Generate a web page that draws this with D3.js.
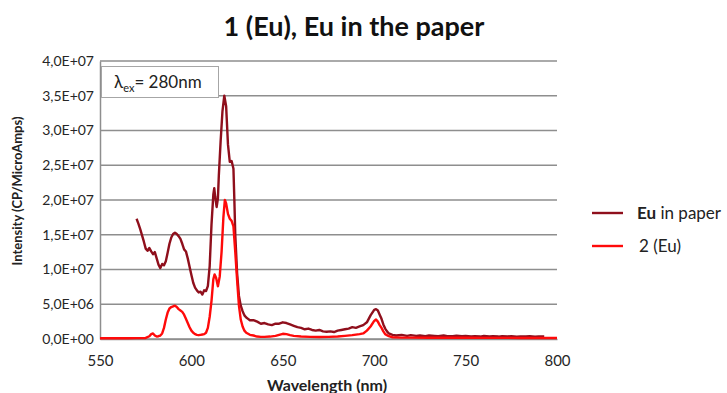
<!DOCTYPE html>
<html>
<head>
<meta charset="utf-8">
<script src="https://cdn.jsdelivr.net/npm/d3@7"></script>
<style>
  html, body { margin: 0; padding: 0; background: #fff; }
  svg { display: block; font-family: Lato, "Open Sans", sans-serif; }
</style>
</head>
<body>
<svg id="chart" width="727" height="393"></svg>
<script>
// Emission spectra, intensity in units of 1E+06 CP/MicroAmps
const paperWavelength = [570,571,572,573,574,575,576,577,578,579,580,581,582,583,584,585,586,587,588,589,590,591,592,593,594,595,596,597,598,599,600,601,602,603,604,605,606,607,608,609,610,611,612,612.5,613,613.8,614.5,615,616,617,618,619,620,621,622,623,623.5,624,625,626,627,628,629,630,631,632,634,636,638,640,642,644,646,648,650,652,654,656,658,660,662,664,666,668,670,672,674,676,678,680,682,684,686,688,690,692,694,696,697,698,699,700,701,702,703,704,705,706,707,708,710,712,715,718,720,723,725,728,730,733,735,738,740,743,745,748,750,753,755,758,760,763,765,768,770,773,775,778,780,783,785,788,790,793,795,798,800];
const paperIntensity = [17.3,16.6,15.8,14.9,14.0,13.0,12.7,13.1,12.6,12.2,12.5,11.6,10.7,10.2,10.8,10.6,11.2,12.4,13.7,14.6,15.1,15.3,15.1,14.8,14.4,13.7,12.9,12.6,11.6,10.4,9.2,8.1,7.4,7.0,6.7,6.8,6.4,7.0,6.9,7.6,10.5,16.5,20.8,21.7,20.5,19.0,20.2,23.5,28.5,32.8,35.0,33.5,28.0,25.5,25.6,24.5,20.0,15.0,9.5,6.2,4.8,4.0,3.4,3.1,2.9,2.7,2.7,2.5,2.2,2.3,2.1,2.0,2.2,2.2,2.4,2.3,2.1,1.9,1.7,1.6,1.4,1.5,1.3,1.2,1.3,1.1,1.05,1.1,1.0,1.2,1.3,1.4,1.5,1.7,1.6,1.8,2.0,2.4,2.9,3.4,3.8,4.2,4.3,4.1,3.5,2.9,2.1,1.5,1.1,0.8,0.6,0.5,0.6,0.45,0.55,0.45,0.5,0.4,0.5,0.45,0.4,0.5,0.42,0.4,0.48,0.4,0.45,0.38,0.42,0.35,0.45,0.38,0.4,0.35,0.42,0.36,0.4,0.33,0.38,0.36,0.4,0.34,0.38,0.36];

const compWavelength = [550,555,560,565,570,575,577,578,579,580,581,582,583,584,585,586,587,588,589,590,591,592,593,594,595,596,597,598,599,600,601,602,603,604,605,606,607,608,609,610,611,612,612.7,613.5,614.5,615.5,616.5,617.5,618.3,619,620,621,622,623,624,625,626,627,628,629,630,632,634,636,638,640,643,646,648,650,652,654,656,660,665,670,675,680,684,688,692,694,696,698,700,701,702,703,704,705,706,708,710,715,720,730,740,750,760,770,780,790,800];
const compIntensity = [0.1,0.1,0.1,0.1,0.12,0.15,0.4,0.7,0.8,0.5,0.35,0.4,0.5,0.8,1.6,2.8,3.8,4.4,4.6,4.7,4.8,4.6,4.3,4.1,3.9,3.5,2.9,2.3,1.7,1.2,0.9,0.7,0.6,0.55,0.6,0.65,0.7,0.9,1.6,3.2,5.5,8.6,9.3,8.8,7.6,9.0,12.5,17.5,20.0,19.5,18.0,17.3,17.0,16.2,12.5,8.5,4.8,2.8,1.8,1.2,0.9,0.6,0.5,0.35,0.3,0.3,0.35,0.45,0.6,0.75,0.7,0.55,0.45,0.35,0.3,0.28,0.3,0.35,0.45,0.55,0.7,0.8,1.2,1.8,2.6,2.8,2.5,2.0,1.6,1.1,0.7,0.4,0.25,0.2,0.2,0.18,0.17,0.17,0.16,0.16,0.15,0.15,0.15];

const xTicks = [550,600,650,700,750,800];
const yTicks = [0,5,10,15,20,25,30,35,40];
const yTickLabels = ["0,0E+00","5,0E+06","1,0E+07","1,5E+07","2,0E+07","2,5E+07","3,0E+07","3,5E+07","4,0E+07"];

const seriesNames = ["in paper", "2 (Eu)"];
const seriesColors = ["#8f0f1c", "#ff0a0a"];

const svg = d3.select("#chart");
const plot = { left: 100, right: 557, top: 61, bottom: 339 };

const x = d3.scaleLinear().domain([550, 800]).range([plot.left, plot.right]);
const y = d3.scaleLinear().domain([0, 40]).range([plot.bottom, plot.top]);

// Title
svg.append("text")
  .attr("x", 354).attr("y", 36)
  .attr("text-anchor", "middle")
  .attr("font-size", 27).attr("font-weight", "bold").attr("fill", "#111")
  .text("1 (Eu), Eu in the paper");

// Horizontal gridlines
svg.append("g")
  .selectAll("line")
  .data(yTicks)
  .join("line")
  .attr("x1", plot.left).attr("x2", plot.right)
  .attr("y1", d => y(d)).attr("y2", d => y(d))
  .attr("stroke", "#8e8e8e").attr("stroke-width", 1.5);

// Y axis
const yAxis = d3.axisLeft(y).tickValues(yTicks).tickSize(0).tickPadding(6)
  .tickFormat((d, i) => yTickLabels[i]);
const gy = svg.append("g").attr("transform", `translate(${plot.left},0)`).call(yAxis);
gy.select(".domain").attr("stroke", "#8e8e8e").attr("stroke-width", 1.5);
gy.selectAll("text").attr("font-size", 14).attr("fill", "#262626").attr("font-family", "Lato, sans-serif");

// X axis
const xAxis = d3.axisBottom(x).tickValues(xTicks).tickSize(0).tickPadding(16);
const gx = svg.append("g").attr("transform", `translate(0,${plot.bottom})`).call(xAxis);
gx.select(".domain").attr("stroke", "#8e8e8e").attr("stroke-width", 1.5);
gx.selectAll("text").attr("font-size", 15).attr("fill", "#262626").attr("font-family", "Lato, sans-serif");

// Axis titles
svg.append("text")
  .attr("x", 327).attr("y", 391)
  .attr("text-anchor", "middle")
  .attr("font-size", 16).attr("font-weight", "bold").attr("fill", "#222")
  .text("Wavelength (nm)");
svg.append("text")
  .attr("transform", "translate(22,191) rotate(-90)")
  .attr("text-anchor", "middle")
  .attr("font-size", 13).attr("font-weight", "bold").attr("fill", "#222")
  .text("Intensity (CP/MicroAmps)");

// Spectra
const line = d3.line()
  .x(d => x(d[0]))
  .y(d => y(d[1]))
  .curve(d3.curveLinear);

const paperData = paperWavelength.map((w, i) => [w, paperIntensity[i]]);
const compData = compWavelength.map((w, i) => [w, compIntensity[i]]);

svg.append("path").datum(paperData)
  .attr("d", line).attr("fill", "none")
  .attr("stroke", seriesColors[0]).attr("stroke-width", 2.4).attr("stroke-linejoin", "round");
svg.append("path").datum(compData)
  .attr("d", line).attr("fill", "none")
  .attr("stroke", seriesColors[1]).attr("stroke-width", 2.4).attr("stroke-linejoin", "round");

// Excitation wavelength label box
const box = svg.append("g");
box.append("rect")
  .attr("x", 101.5).attr("y", 66.5).attr("width", 117).attr("height", 31)
  .attr("fill", "#fff").attr("stroke", "#a6a6a6").attr("stroke-width", 1);
const lab = box.append("text")
  .attr("x", 114).attr("y", 88)
  .attr("font-size", 17).attr("fill", "#222");
lab.append("tspan").text("\u03bb");
lab.append("tspan").attr("font-size", 11).attr("dy", 4).text("ex");
lab.append("tspan").attr("dy", -4).text("= 280nm");

// Series legend
const legend = svg.append("g");
const legendRows = [{ y: 213 }, { y: 246 }];
legendRows.forEach((r, i) => {
  legend.append("line")
    .attr("x1", 592).attr("x2", 623).attr("y1", r.y).attr("y2", r.y)
    .attr("stroke", seriesColors[i]).attr("stroke-width", 2.4);
});
const t0 = legend.append("text").attr("x", 637).attr("y", 219)
  .attr("font-size", 17).attr("fill", "#222");
t0.append("tspan").attr("font-weight", "bold").text("Eu");
t0.append("tspan").text(" " + seriesNames[0]);
legend.append("text").attr("x", 639).attr("y", 252)
  .attr("font-size", 17).attr("fill", "#222")
  .text(seriesNames[1]);
</script>
</body>
</html>
